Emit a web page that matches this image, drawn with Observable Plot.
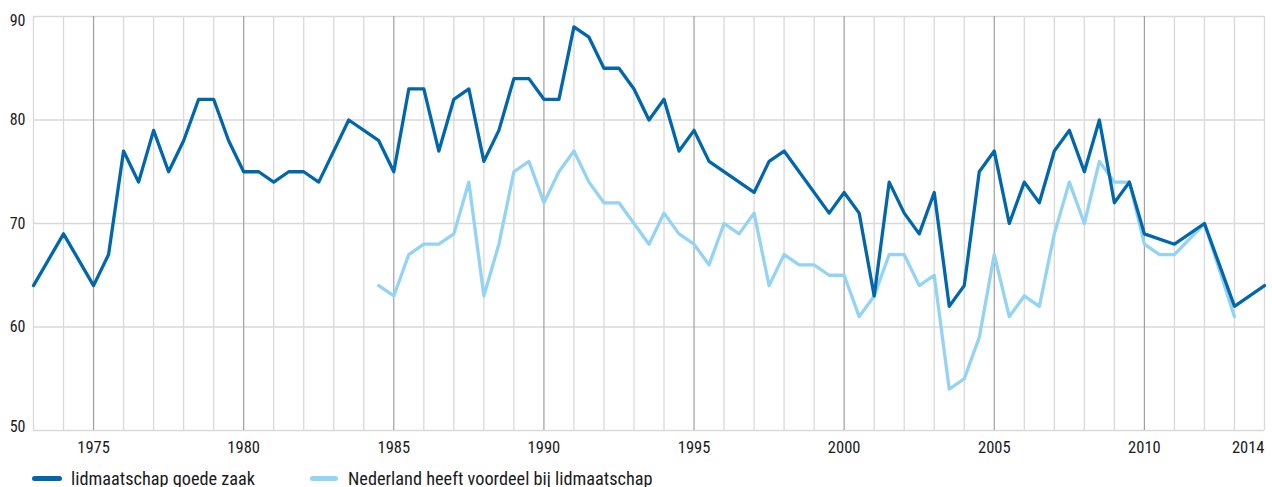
<!DOCTYPE html>
<html>
<head>
<meta charset="utf-8">
<script src="https://cdn.jsdelivr.net/npm/d3@7"></script>
<script src="https://cdn.jsdelivr.net/npm/@observablehq/plot@0.6"></script>
<style>
  body { margin: 0; background: #fff; font-family: "Roboto Condensed", sans-serif; overflow: hidden; }
  #chart svg { display: block; }
  #legend { position: relative; height: 25px; font-size: 18.3px; color: #1a1a1a; }
  .item { position: absolute; top: 4px; height: 25px; line-height: 25px; display: flex; align-items: center; white-space: nowrap; }
  .sw { display: inline-block; height: 5px; border-radius: 3px; }
</style>
</head>
<body>
<div id="chart"></div>
<div id="legend">
  <div class="item" style="left:32px"><span class="sw" style="width:30px;background:#0067ac;margin-right:9px"></span><span>lidmaatschap goede zaak</span></div>
  <div class="item" style="left:310px"><span class="sw" style="width:28px;background:#93d3f4;margin-right:10px"></span><span>Nederland heeft voordeel bij lidmaatschap</span></div>
</div>
<script>
const years1 = [1973,1974,1975,1975.5,1976,1976.5,1977,1977.5,1978,1978.5,1979,1979.5,1980,1980.5,1981,1981.5,1982,1982.5,1983.5,1984.5,1985,1985.5,1986,1986.5,1987,1987.5,1988,1988.5,1989,1989.5,1990,1990.5,1991,1991.5,1992,1992.5,1993,1993.5,1994,1994.5,1995,1995.5,1997,1997.5,1998,1999.5,2000,2000.5,2001,2001.5,2002,2002.5,2003,2003.5,2004,2004.5,2005,2005.5,2006,2006.5,2007,2007.5,2008,2008.5,2009,2009.5,2010,2011,2012,2013,2014];
const values1 = [64,69,64,67,77,74,79,75,78,82,82,78,75,75,74,75,75,74,80,78,75,83,83,77,82,83,76,79,84,84,82,82,89,88,85,85,83,80,82,77,79,76,73,76,77,71,73,71,63,74,71,69,73,62,64,75,77,70,74,72,77,79,75,80,72,74,69,68,70,62,64];

const years2 = [1984.5,1985,1985.5,1986,1986.5,1987,1987.5,1988,1988.5,1989,1989.5,1990,1990.5,1991,1991.5,1992,1992.5,1993,1993.5,1994,1994.5,1995,1995.5,1996,1996.5,1997,1997.5,1998,1998.5,1999,1999.5,2000,2000.5,2001,2001.5,2002,2002.5,2003,2003.5,2004,2004.5,2005,2005.5,2006,2006.5,2007,2007.5,2008,2008.5,2009,2009.5,2010,2010.5,2011,2012,2013];
const values2 = [64,63,67,68,68,69,74,63,68,75,76,72,75,77,74,72,72,70,68,71,69,68,66,70,69,71,64,67,66,66,65,65,61,63,67,67,64,65,54,55,59,67,61,63,62,69,74,70,76,74,74,68,67,67,70,61];

const xTicks = [1975,1980,1985,1990,1995,2000,2005,2010,2014];
const yTicks = [50,60,70,80,90];
const allYears = d3.range(1973, 2015);

const s1 = years1.map((x, i) => ({x, y: values1[i]}));
const s2 = years2.map((x, i) => ({x, y: values2[i]}));

const minor = allYears.filter(d => d % 5 !== 0);
const major = allYears.filter(d => d % 5 === 0);

const chart = Plot.plot({
  width: 1272,
  height: 462,
  marginTop: 16,
  marginBottom: 32,
  marginLeft: 33,
  marginRight: 8,
  style: {fontFamily: "'Roboto Condensed', sans-serif", fontSize: "16px", color: "#1a1a1a"},
  x: {domain: [1973, 2014]},
  y: {domain: [50, 90]},
  marks: [
    Plot.ruleY(yTicks, {stroke: "#d9d9d9", strokeWidth: 1.3}),
    Plot.ruleX(minor, {stroke: "#d9d9d9", strokeWidth: 1.3}),
    Plot.ruleX(major, {stroke: "#a0a0a0", strokeWidth: 1.2}),
    Plot.axisX(xTicks.filter(d => d < 2014), {tickSize: 0, tickPadding: 11, tickFormat: d => String(d), label: null, fontSize: 16.5}),
    Plot.text(xTicks.filter(d => d >= 2014), {x: d => d, y: () => 50, textAnchor: "end", dy: 17.5, fontSize: 16.5, text: d => String(d)}),
    Plot.axisY(yTicks.filter(d => d > 50 && d < 90), {tickSize: 0, tickPadding: 8, label: null, fontSize: 16}),
    Plot.text(yTicks.filter(d => d === 90), {x: () => 1973, y: d => d, textAnchor: "end", dx: -8, dy: 4.5, fontSize: 16, text: d => String(d)}),
    Plot.text(yTicks.filter(d => d === 50), {x: () => 1973, y: d => d, textAnchor: "end", dx: -8, dy: -4, fontSize: 16, text: d => String(d)}),
    Plot.line(s2, {x: "x", y: "y", stroke: "#93d3f4", strokeWidth: 3.3}),
    Plot.line(s1, {x: "x", y: "y", stroke: "#0067ac", strokeWidth: 3.3})
  ]
});
document.getElementById("chart").appendChild(chart);
</script>
</body>
</html>
